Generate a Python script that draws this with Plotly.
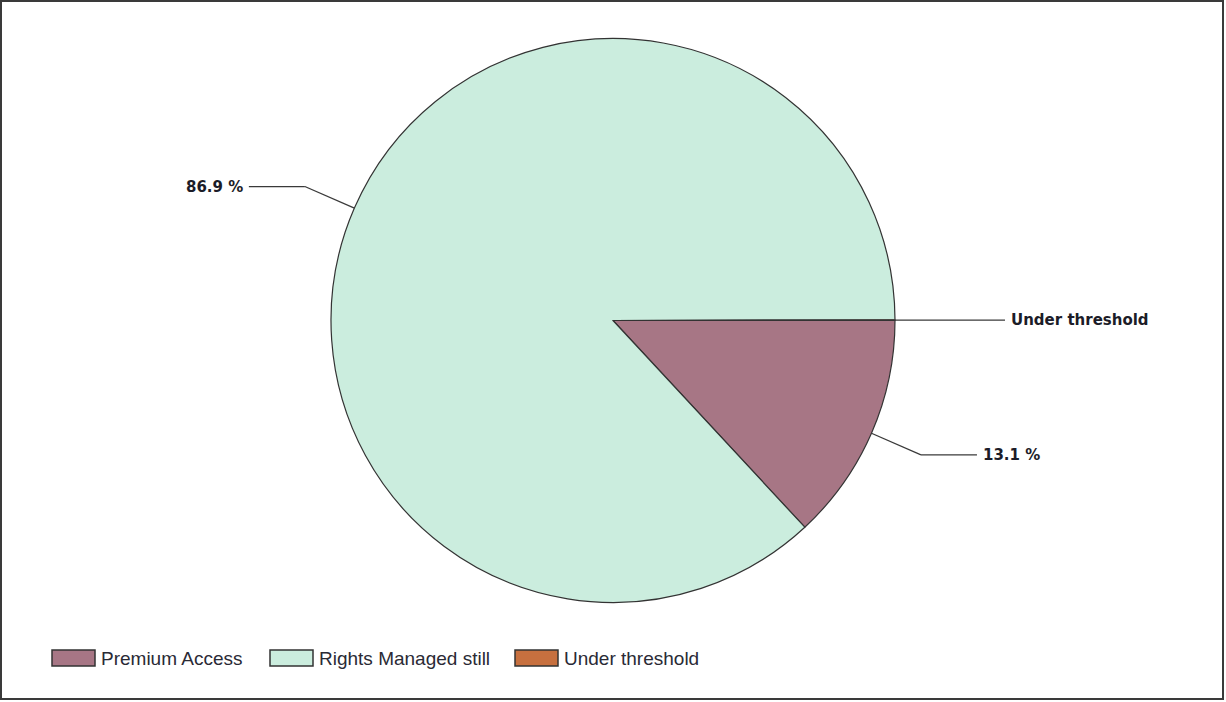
import math
import plotly.graph_objects as go

# ---- data ----
labels = ["Premium Access", "Rights Managed still", "Under threshold"]
values = [13.1, 86.9, 0.04]
slice_texts = ["13.1 %", "86.9 %", "Under threshold"]
colors = ["#A77685", "#CBEDDE", "#C7703F"]

# ---- layout constants (pixels) ----
W, H = 1226, 702
cx, cy, R = 613, 320.5, 282
ELBOW = 54
HORIZ = 56
legend_x0 = [52, 270, 515]
legend_y = 658
sw_w, sw_h = 43, 16


def px(x):
    return x / W


def py(y):
    return 1 - y / H


fig = go.Figure(
    go.Pie(
        labels=labels,
        values=values,
        sort=False,
        direction="clockwise",
        rotation=90,
        marker=dict(colors=colors, line=dict(color="#333333", width=1.2)),
        textinfo="none",
        hoverinfo="label+percent",
        showlegend=False,
        domain=dict(x=[0, 1], y=[py(cy + R), py(cy - R)]),
    )
)

shapes = []
annotations = []
total = sum(values)
cum = 0.0
for lab, v, txt in zip(labels, values, slice_texts):
    a = 2 * math.pi * (cum + v / 2) / total
    cum += v
    ex, ey = cx + R * math.cos(a), cy + R * math.sin(a)
    bx, by = cx + (R + ELBOW) * math.cos(a), cy + (R + ELBOW) * math.sin(a)
    right = math.cos(a) >= 0
    tx = bx + HORIZ if right else bx - HORIZ
    for (x0, y0, x1, y1) in [(ex, ey, bx, by), (bx, by, tx, by)]:
        shapes.append(dict(type="line", xref="paper", yref="paper",
                           x0=px(x0), y0=py(y0), x1=px(x1), y1=py(y1),
                           line=dict(color="#3a3a3a", width=1.3)))
    annotations.append(dict(
        xref="paper", yref="paper", x=px(tx + (4 if right else -4)), y=py(by),
        text=txt, showarrow=False, xanchor="left" if right else "right",
        yanchor="middle",
        font=dict(family="DejaVu Sans", size=15, color="#1c1c28", weight="bold"),
    ))

# custom legend
for lab, col, x0 in zip(labels, colors, legend_x0):
    shapes.append(dict(type="rect", xref="paper", yref="paper",
                       x0=px(x0), x1=px(x0 + sw_w),
                       y0=py(legend_y - sw_h / 2), y1=py(legend_y + sw_h / 2),
                       fillcolor=col, line=dict(color="#333333", width=1.5)))
    annotations.append(dict(
        xref="paper", yref="paper", x=px(x0 + sw_w + 4), y=py(legend_y),
        text=lab, showarrow=False, xanchor="left", yanchor="middle",
        font=dict(family="Liberation Sans", size=19, color="#2a2a35"),
    ))

# outer border
shapes.append(dict(type="rect", xref="paper", yref="paper",
                   x0=px(1), x1=px(W - 3), y0=py(H - 3), y1=py(1),
                   line=dict(color="#3a3a3a", width=2)))

fig.update_layout(
    width=W, height=H,
    margin=dict(l=0, r=0, t=0, b=0),
    paper_bgcolor="white", plot_bgcolor="white",
    shapes=shapes, annotations=annotations,
    showlegend=False,
)

fig.write_html("out.html")
